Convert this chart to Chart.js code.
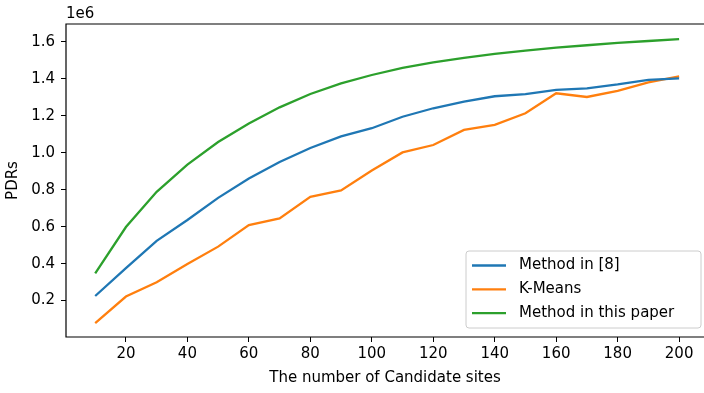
<!DOCTYPE html>
<html>
<head>
<meta charset="utf-8">
<script src="https://cdn.jsdelivr.net/npm/chart.js@4.4.1/dist/chart.umd.min.js"></script>
<style>
  html, body { margin: 0; padding: 0; background: #fff; overflow: hidden; }
</style>
</head>
<body>
<canvas id="pdr-chart" width="704" height="393"></canvas>
<script>
// Number of candidate sites (x axis)
const sites = [10, 20, 30, 40, 50, 60, 70, 80, 90, 100, 110, 120, 130, 140, 150, 160, 170, 180, 190, 200];

// PDRs per method
const methodRef = [225000, 376000, 523000, 636000, 756000, 861000, 950000, 1026000, 1089000, 1133000,
  1195000, 1241000, 1277000, 1306000, 1318000, 1340000, 1349000, 1370000, 1395000, 1403000];
const kMeans = [78000, 222000, 299000, 398000, 492000, 609000, 645000, 762000, 796000, 904000,
  1002000, 1042000, 1124000, 1151000, 1214000, 1322000, 1302000, 1335000, 1381000, 1413000];
const methodOurs = [347000, 598000, 789000, 936000, 1058000, 1159000, 1246000, 1318000, 1376000, 1421000,
  1460000, 1489000, 1514000, 1535000, 1553000, 1569000, 1582000, 1595000, 1605000, 1615000];

const seriesNames = ['Method in [8]', 'K-Means', 'Method in this paper'];
const seriesColors = ['#1f77b4', '#ff7f0e', '#2ca02c'];

const xTicks = [20, 40, 60, 80, 100, 120, 140, 160, 180, 200];
const yTicks = [200000, 400000, 600000, 800000, 1000000, 1200000, 1400000, 1600000];

const FONT = 'DejaVu Sans';

// Spines (the right one falls off the canvas), "1e6" offset text and the legend box
const framePlugin = {
  id: 'frame',
  afterDraw(chart) {
    const { ctx, chartArea: a } = chart;
    ctx.save();
    ctx.strokeStyle = '#000';
    ctx.lineWidth = 1.2;
    ctx.beginPath();
    ctx.moveTo(a.right, a.top);
    ctx.lineTo(a.left, a.top);
    ctx.lineTo(a.left, a.bottom);
    ctx.lineTo(a.right, a.bottom);
    ctx.stroke();

    ctx.fillStyle = '#000';
    ctx.font = '15px "' + FONT + '"';
    ctx.textAlign = 'left';
    ctx.textBaseline = 'alphabetic';
    ctx.fillText('1e6', a.left, a.top - 6);

    // legend
    const bx = 466, by = 251, bw = 235, bh = 77, r = 3;
    ctx.beginPath();
    ctx.moveTo(bx + r, by);
    ctx.arcTo(bx + bw, by, bx + bw, by + bh, r);
    ctx.arcTo(bx + bw, by + bh, bx, by + bh, r);
    ctx.arcTo(bx, by + bh, bx, by, r);
    ctx.arcTo(bx, by, bx + bw, by, r);
    ctx.closePath();
    ctx.fillStyle = 'rgba(255,255,255,0.8)';
    ctx.fill();
    ctx.strokeStyle = '#cccccc';
    ctx.lineWidth = 1;
    ctx.stroke();

    ctx.textBaseline = 'middle';
    chart.data.datasets.forEach((ds, i) => {
      const y = by + 14.5 + i * 23.8;
      ctx.strokeStyle = ds.borderColor;
      ctx.lineWidth = 2.3;
      ctx.beginPath();
      ctx.moveTo(bx + 6, y);
      ctx.lineTo(bx + 40, y);
      ctx.stroke();
      ctx.fillStyle = '#000';
      ctx.fillText(ds.label, bx + 53, y);
    });
    ctx.restore();
  }
};

const toPoints = vals => vals.map((v, i) => ({ x: sites[i], y: v }));

new Chart(document.getElementById('pdr-chart'), {
  type: 'line',
  data: {
    datasets: [methodRef, kMeans, methodOurs].map((vals, i) => ({
      label: seriesNames[i],
      data: toPoints(vals),
      borderColor: seriesColors[i],
      backgroundColor: seriesColors[i],
      borderWidth: 2.3,
      pointRadius: 0,
      tension: 0,
      fill: false
    }))
  },
  options: {
    responsive: false,
    animation: false,
    layout: { padding: { left: 0, top: 24, right: 0, bottom: 6 } },
    plugins: {
      legend: { display: false },
      tooltip: { enabled: false }
    },
    scales: {
      x: {
        type: 'linear',
        min: 0.5,
        max: 208.1,
        afterBuildTicks: s => { s.ticks = xTicks.map(v => ({ value: v })); },
        afterFit: s => { s.height = 50; },
        grid: { drawOnChartArea: false, drawTicks: true, tickLength: 5, tickColor: '#000', color: '#000' },
        border: { display: false },
        ticks: { color: '#000', font: { family: FONT, size: 15 }, padding: 3, maxRotation: 0 },
        title: { display: true, text: 'The number of Candidate sites', color: '#000', font: { family: FONT, size: 15 }, padding: 0 }
      },
      y: {
        type: 'linear',
        min: 3000,
        max: 1697000,
        afterBuildTicks: s => { s.ticks = yTicks.map(v => ({ value: v })); },
        afterFit: s => { s.width = 66; },
        grid: { drawOnChartArea: false, drawTicks: true, tickLength: 5, tickColor: '#000', color: '#000' },
        border: { display: false },
        ticks: { color: '#000', font: { family: FONT, size: 15 }, padding: 6, callback: v => (v / 1e6).toFixed(1) },
        title: { display: true, text: 'PDRs', color: '#000', font: { family: FONT, size: 15 }, padding: 4 }
      }
    }
  },
  plugins: [framePlugin]
});
</script>
</body>
</html>
